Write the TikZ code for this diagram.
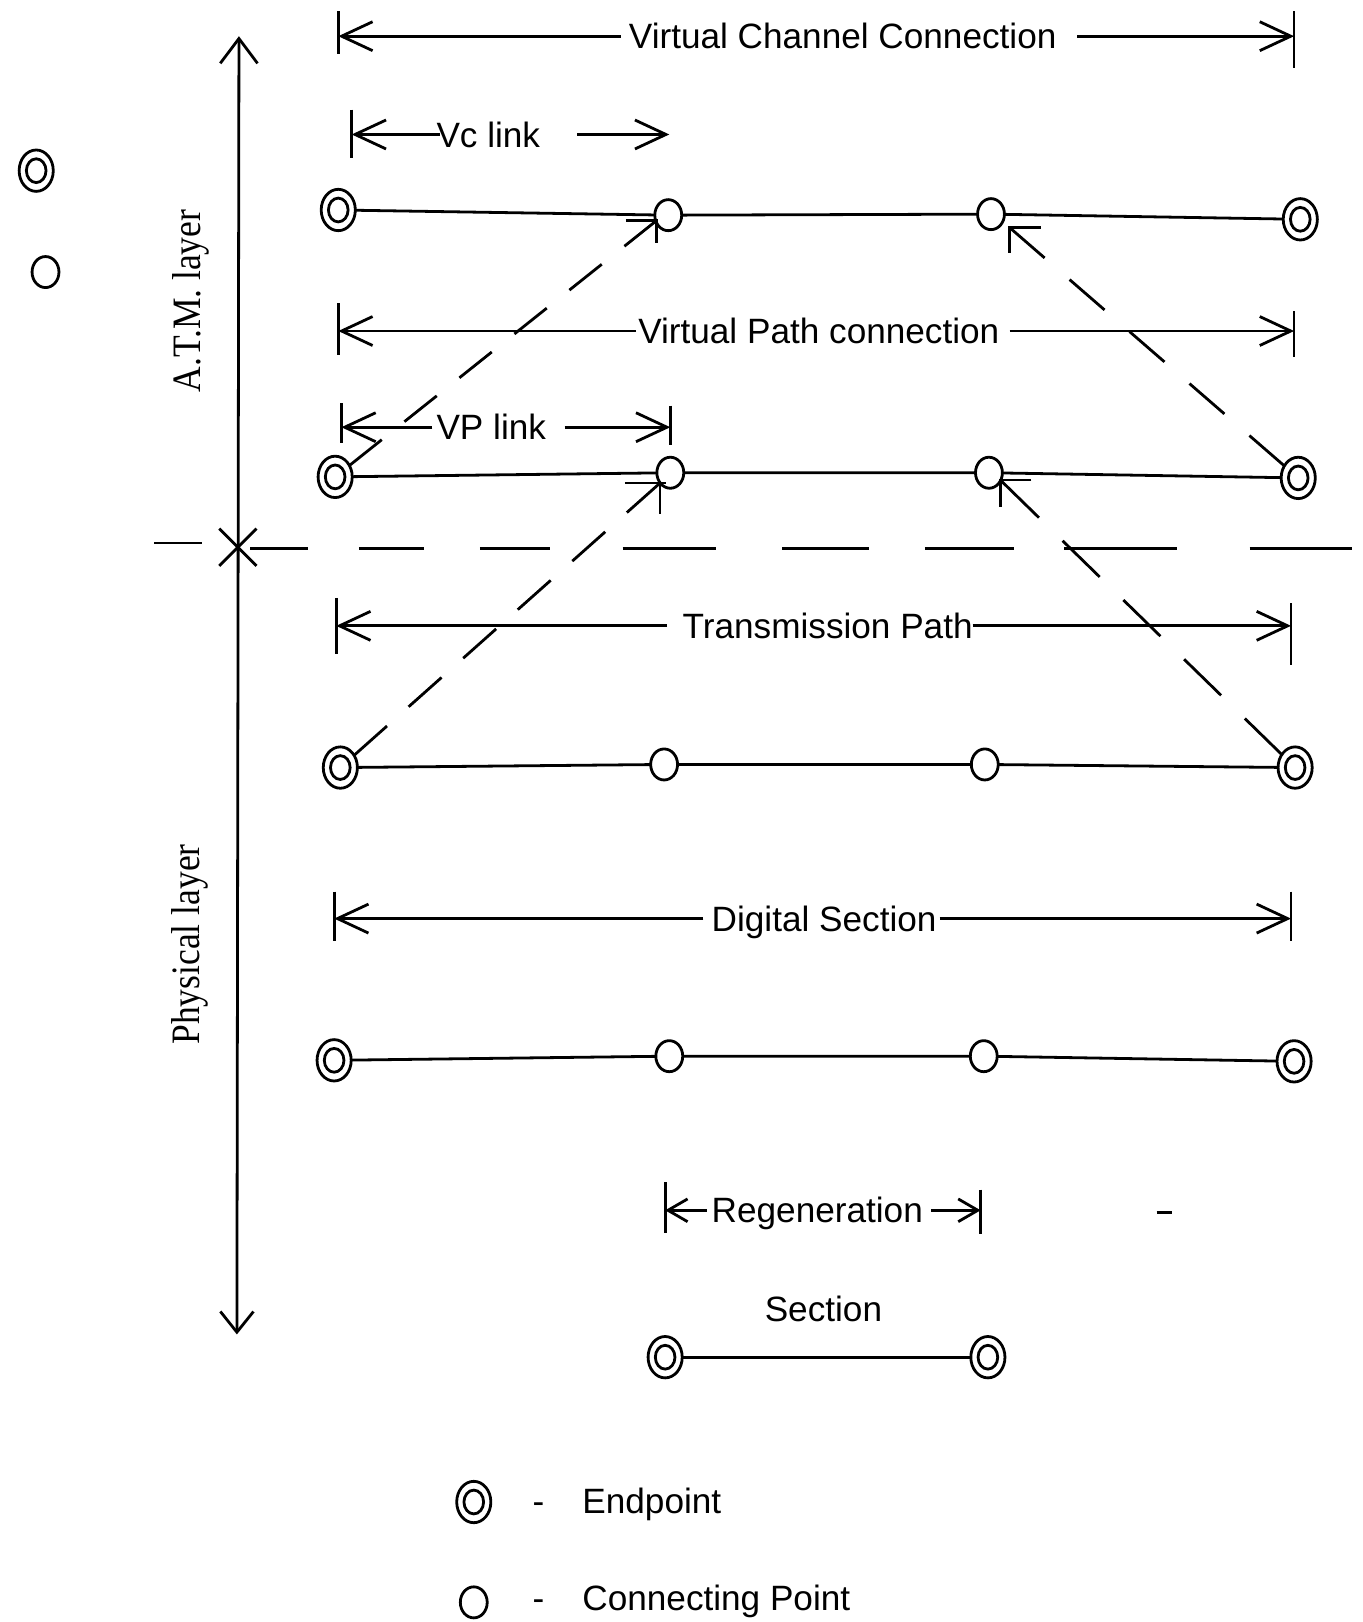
\documentclass[tikz,border=0pt]{standalone}
\usepackage{fontspec}
\setmainfont{Liberation Sans}
\newfontfamily\layerfont[FakeStretch=0.88]{Liberation Serif}
\usetikzlibrary{arrows.meta,shapes.geometric}

\begin{document}
\begin{tikzpicture}[x=1pt,y=-1pt,line width=2.7pt,
  every node/.style={inner sep=0pt,outer sep=0pt},
  lbl/.style={font=\fontsize{34}{40}\selectfont,text height=24.5pt,text depth=0pt,anchor=west},
  layerlbl/.style={font=\layerfont\fontsize{39}{44}\selectfont,rotate=90,anchor=base},
  conpt/.style={ellipse,draw,minimum width=26pt,minimum height=30pt},
  endpt/.style={ellipse,draw,minimum width=33pt,minimum height=40pt,
    path picture={\draw[line width=2.7pt] (path picture bounding box.center)
      ellipse [x radius=9.5pt,y radius=11.5pt];}},
  bigtip/.style={-{Straight Barb[length=30pt,width=28pt]}},
  smalltip/.style={-{Straight Barb[length=19pt,width=22pt]}},
  layerlink/.style={dash pattern=on #1},
]
\useasboundingbox (0,0) rectangle (1317,1568);

% ---- layer axis ----
\coordinate (atmTop) at (231,35);
\coordinate (atmBot) at (229,1290);
\draw[{Straight Barb[length=24pt,width=36pt]}-{Straight Barb[length=20pt,width=32pt]}] (atmTop) -- (atmBot);
\draw (212,511) -- (248,547) (212,547) -- (248,511);
\node[layerlbl] (atm) at (194,291) {A.T.M. layer};
\node[layerlbl] (phy) at (193,913) {Physical layer};

% layer boundary
\draw (149,525) -- (195,525);
\foreach \a/\b in {242/298,347/410,464/532,602/692,756/840,894/980,1029/1138,1208/1307}
  \draw (\a,530) -- (\b,530);

% ---- side symbols ----
\node[endpt] (sideE) at (35,165) {};
\node[conpt] (sideC) at (44,263) {};

% ---- points ----
\node[endpt] (e1L) at (327,203) {};
\node[conpt] (c1a) at (646,208) {};
\node[conpt] (c1b) at (958,207) {};
\node[endpt] (e1R) at (1257,212) {};

\node[endpt] (e2L) at (324,461) {};
\node[conpt] (c2a) at (648,457) {};
\node[conpt] (c2b) at (956,457) {};
\node[endpt] (e2R) at (1255,462) {};

\node[endpt] (e3L) at (329,742) {};
\node[conpt] (c3a) at (642,739) {};
\node[conpt] (c3b) at (952,739) {};
\node[endpt] (e3R) at (1252,742) {};

\node[endpt] (e4L) at (323,1025) {};
\node[conpt] (c4a) at (647,1021) {};
\node[conpt] (c4b) at (951,1021) {};
\node[endpt] (e4R) at (1251,1026) {};

\node[endpt] (e5L) at (643,1312) {};
\node[endpt] (e5R) at (955,1312) {};

\draw (e1L) -- (c1a) -- (c1b) -- (e1R);
\draw (e2L) -- (c2a) -- (c2b) -- (e2R);
\draw (e3L) -- (c3a) -- (c3b) -- (e3R);
\draw (e4L) -- (c4a) -- (c4b) -- (e4R);
\draw (e5L) -- (e5R);

% ---- links between layers (dash lengths fitted to each run) ----
\coordinate (t1) at (635,213);
\coordinate (t2) at (638,467);
\coordinate (t3) at (976,220);
\coordinate (t4) at (967,464);
\draw[dash pattern=on 40pt off 28pt] (e2L) -- (t1);
\draw[dash pattern=on 42.6pt off 28pt] (e3L) -- (t2);
\draw[dash pattern=on 44.7pt off 32pt] (e2R) -- (t3);
\draw[dash pattern=on 50pt off 32pt] (e3R) -- (t4);
\draw ([xshift=-30pt]t1) -- (t1) -- ([yshift=-22pt]t1);
\draw ([xshift=-34pt]t2) -- ([xshift=6pt]t2);
\draw (t2) -- ([yshift=-30pt]t2);
\draw ([xshift=30pt]t3) -- (t3) -- ([yshift=-25pt]t3);
\draw ([xshift=30pt]t4) -- (t4) -- ([yshift=-26pt]t4);

% ---- extents ----
\node[lbl] (vcc) at (608,35) {Virtual Channel Connection};
\coordinate (vccL) at (327,35);
\coordinate (vccR) at (1251,35);
\draw (327,11) -- (327,52);
\draw (1251,11) -- (1251,66);
\draw[bigtip] ([xshift=-8pt]vcc.west) -- (vccL);
\draw[bigtip] ([xshift=20pt]vcc.east) -- (vccR);

\node[lbl] (vcl) at (422,130) {Vc link};
\coordinate (vclL) at (340,130);
\coordinate (vclR) at (647,130);
\draw (340,106) -- (340,153);
\draw[bigtip] ([xshift=3pt]vcl.west) -- (vclL);
\draw[bigtip] ([xshift=36pt]vcl.east) -- (vclR);

\node[lbl] (vpc) at (617,320) {Virtual Path connection};
\coordinate (vpcL) at (327,320);
\coordinate (vpcR) at (1251,320);
\draw (327,293) -- (327,343);
\draw (1251,301) -- (1251,345);
\draw[bigtip] ([xshift=-2pt]vpc.west) -- (vpcL);
\draw[bigtip] ([xshift=10pt]vpc.east) -- (vpcR);

\node[lbl] (vpl) at (422,413) {VP link};
\coordinate (vplL) at (330,413);
\coordinate (vplR) at (648,413);
\draw (330,390) -- (330,428);
\draw (648,392) -- (648,430);
\draw[bigtip] ([xshift=-4pt]vpl.west) -- (vplL);
\draw[bigtip] ([xshift=18pt]vpl.east) -- (vplR);

\node[lbl] (tp) at (660,605) {Transmission Path};
\coordinate (tpL) at (325,605);
\coordinate (tpR) at (1248,605);
\draw (325,578) -- (325,632);
\draw (1248,583) -- (1248,643);
\draw[bigtip] ([xshift=-15pt]tp.west) -- (tpL);
\draw[bigtip] (tp.east) -- (tpR);

\node[lbl] (ds) at (688,888) {Digital Section};
\coordinate (dsL) at (323,888);
\coordinate (dsR) at (1248,888);
\draw (323,862) -- (323,910);
\draw (1248,862) -- (1248,910);
\draw[bigtip] ([xshift=-8pt]ds.west) -- (dsL);
\draw[bigtip] ([xshift=3pt]ds.east) -- (dsR);

\node[lbl] (reg) at (688,1170) {Regeneration};
\coordinate (regL) at (643,1170);
\coordinate (regR) at (948,1170);
\draw (643,1143) -- (643,1192);
\draw (948,1150) -- (948,1193);
\draw[smalltip] ([xshift=-5pt]reg.west) -- (regL);
\draw[smalltip] ([xshift=8pt]reg.east) -- (regR);
\draw (1118,1172) -- (1133,1172);

\node[lbl,anchor=center] (sec) at (796,1265) {Section};

% ---- key ----
\node[endpt] (legE) at (458,1452) {};
\node[lbl] (legEd) at (515,1451) {-};
\node[lbl] (legEt) at (563,1451) {Endpoint};
\node[conpt] (legC) at (458,1549) {};
\node[lbl] (legCd) at (515,1545) {-};
\node[lbl] (legCt) at (563,1545) {Connecting Point};
\end{tikzpicture}
\end{document}
